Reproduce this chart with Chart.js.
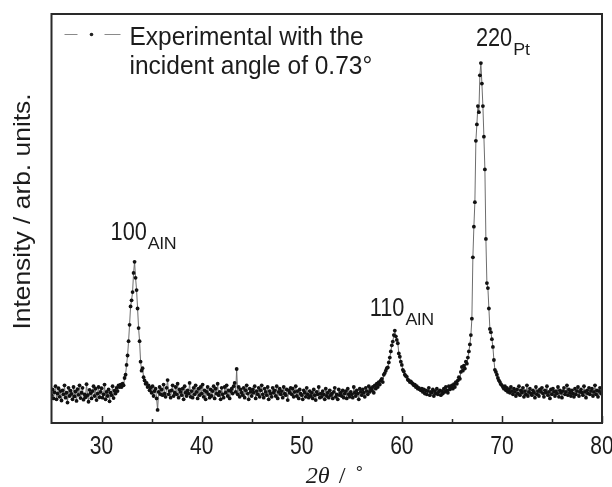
<!DOCTYPE html>
<html>
<head>
<meta charset="utf-8">
<title>XRD pattern</title>
<script src="https://cdn.jsdelivr.net/npm/chart.js@4.4.1/dist/chart.umd.min.js"></script>
<style>
    html, body { margin: 0; padding: 0; background: #fff; }
    canvas { display: block; }
</style>
</head>
<body>
<canvas id="xrdChart" width="612" height="487"></canvas>
<script>
// --- DATA ---
// scan angles, 2theta in degrees, one row per degree
const angles = [
    25.0,25.1,25.2,25.3,25.4,25.5,25.6,25.7,25.8,25.9,
    26.0,26.1,26.2,26.3,26.4,26.5,26.6,26.7,26.8,26.9,
    27.0,27.1,27.2,27.3,27.4,27.5,27.6,27.7,27.8,27.9,
    28.0,28.1,28.2,28.3,28.4,28.5,28.6,28.7,28.8,28.9,
    29.0,29.1,29.2,29.3,29.4,29.5,29.6,29.7,29.8,29.9,
    30.0,30.1,30.2,30.3,30.4,30.5,30.6,30.7,30.8,30.9,
    31.0,31.1,31.2,31.3,31.4,31.5,31.6,31.7,31.8,31.9,
    32.0,32.1,32.2,32.3,32.4,32.5,32.6,32.7,32.8,32.9,
    33.0,33.1,33.2,33.3,33.4,33.5,33.6,33.7,33.8,33.9,
    34.0,34.1,34.2,34.3,34.4,34.5,34.6,34.7,34.8,34.9,
    35.0,35.1,35.2,35.3,35.4,35.5,35.6,35.7,35.8,35.9,
    36.0,36.1,36.2,36.3,36.4,36.5,36.6,36.7,36.8,36.9,
    37.0,37.1,37.2,37.3,37.4,37.5,37.6,37.7,37.8,37.9,
    38.0,38.1,38.2,38.3,38.4,38.5,38.6,38.7,38.8,38.9,
    39.0,39.1,39.2,39.3,39.4,39.5,39.6,39.7,39.8,39.9,
    40.0,40.1,40.2,40.3,40.4,40.5,40.6,40.7,40.8,40.9,
    41.0,41.1,41.2,41.3,41.4,41.5,41.6,41.7,41.8,41.9,
    42.0,42.1,42.2,42.3,42.4,42.5,42.6,42.7,42.8,42.9,
    43.0,43.1,43.2,43.3,43.4,43.5,43.6,43.7,43.8,43.9,
    44.0,44.1,44.2,44.3,44.4,44.5,44.6,44.7,44.8,44.9,
    45.0,45.1,45.2,45.3,45.4,45.5,45.6,45.7,45.8,45.9,
    46.0,46.1,46.2,46.3,46.4,46.5,46.6,46.7,46.8,46.9,
    47.0,47.1,47.2,47.3,47.4,47.5,47.6,47.7,47.8,47.9,
    48.0,48.1,48.2,48.3,48.4,48.5,48.6,48.7,48.8,48.9,
    49.0,49.1,49.2,49.3,49.4,49.5,49.6,49.7,49.8,49.9,
    50.0,50.1,50.2,50.3,50.4,50.5,50.6,50.7,50.8,50.9,
    51.0,51.1,51.2,51.3,51.4,51.5,51.6,51.7,51.8,51.9,
    52.0,52.1,52.2,52.3,52.4,52.5,52.6,52.7,52.8,52.9,
    53.0,53.1,53.2,53.3,53.4,53.5,53.6,53.7,53.8,53.9,
    54.0,54.1,54.2,54.3,54.4,54.5,54.6,54.7,54.8,54.9,
    55.0,55.1,55.2,55.3,55.4,55.5,55.6,55.7,55.8,55.9,
    56.0,56.1,56.2,56.3,56.4,56.5,56.6,56.7,56.8,56.9,
    57.0,57.1,57.2,57.3,57.4,57.5,57.6,57.7,57.8,57.9,
    58.0,58.1,58.2,58.3,58.4,58.5,58.6,58.7,58.8,58.9,
    59.0,59.1,59.2,59.3,59.4,59.5,59.6,59.7,59.8,59.9,
    60.0,60.1,60.2,60.3,60.4,60.5,60.6,60.7,60.8,60.9,
    61.0,61.1,61.2,61.3,61.4,61.5,61.6,61.7,61.8,61.9,
    62.0,62.1,62.2,62.3,62.4,62.5,62.6,62.7,62.8,62.9,
    63.0,63.1,63.2,63.3,63.4,63.5,63.6,63.7,63.8,63.9,
    64.0,64.1,64.2,64.3,64.4,64.5,64.6,64.7,64.8,64.9,
    65.0,65.1,65.2,65.3,65.4,65.5,65.6,65.7,65.8,65.9,
    66.0,66.1,66.2,66.3,66.4,66.5,66.6,66.7,66.8,66.9,
    67.0,67.1,67.2,67.3,67.4,67.5,67.6,67.7,67.8,67.9,
    68.0,68.1,68.2,68.3,68.4,68.5,68.6,68.7,68.8,68.9,
    69.0,69.1,69.2,69.3,69.4,69.5,69.6,69.7,69.8,69.9,
    70.0,70.1,70.2,70.3,70.4,70.5,70.6,70.7,70.8,70.9,
    71.0,71.1,71.2,71.3,71.4,71.5,71.6,71.7,71.8,71.9,
    72.0,72.1,72.2,72.3,72.4,72.5,72.6,72.7,72.8,72.9,
    73.0,73.1,73.2,73.3,73.4,73.5,73.6,73.7,73.8,73.9,
    74.0,74.1,74.2,74.3,74.4,74.5,74.6,74.7,74.8,74.9,
    75.0,75.1,75.2,75.3,75.4,75.5,75.6,75.7,75.8,75.9,
    76.0,76.1,76.2,76.3,76.4,76.5,76.6,76.7,76.8,76.9,
    77.0,77.1,77.2,77.3,77.4,77.5,77.6,77.7,77.8,77.9,
    78.0,78.1,78.2,78.3,78.4,78.5,78.6,78.7,78.8,78.9,
    79.0,79.1,79.2,79.3,79.4,79.5,79.6,79.7,79.8,79.9,
    80.0
];

// intensity, arb. units (0..1000 over the plot height)
const intensities = [
    68, 82, 60, 75, 90, 58, 72, 85, 64, 78,
    55, 80, 70, 92, 62, 74, 50, 86, 66, 79,
    71, 58, 88, 65, 77, 54, 83, 69, 92, 61,
    74, 86, 57, 70, 63, 95, 68, 52, 81, 73,
    60, 78, 90, 66, 84, 56, 72, 88, 63, 76,
    85, 62, 70, 94, 58, 76, 66, 82, 53, 74,
    68, 90, 61, 79, 72, 86, 78, 92, 88, 94,
    88, 96, 92, 110, 118, 142, 165, 200, 240, 285,
    300, 320, 367, 394, 355, 325, 280, 232, 200, 150,
    128, 134, 112, 104, 96, 98, 88, 92, 80, 86,
    74, 90, 66, 78, 84, 60, 32, 76, 88, 70,
    82, 68, 94, 72, 64, 86, 105, 70, 78, 62,
    80, 92, 66, 74, 88, 70, 96, 62, 82, 76,
    68, 84, 58, 90, 74, 66, 80, 72, 98, 64,
    78, 62, 86, 70, 92, 76, 60, 84, 68, 88,
    72, 94, 64, 80, 58, 76, 88, 70, 62, 82,
    66, 78, 90, 60, 84, 72, 96, 68, 76, 58,
    86, 70, 62, 88, 74, 92, 66, 80, 60, 78,
    84, 72, 90, 98, 76, 132, 70, 88, 64, 82,
    74, 68, 86, 62, 80, 92, 72, 58, 84, 76,
    66, 82, 74, 90, 60, 78, 70, 86, 64, 80,
    92, 70, 62, 84, 76, 68, 88, 58, 78, 72,
    64, 86, 74, 80, 66, 90, 60, 76, 84, 70,
    78, 62, 88, 72, 68, 82, 56, 80, 74, 86,
    70, 84, 64, 76, 90, 66, 78, 60, 82, 72,
    68, 58, 80, 74, 64, 86, 70, 62, 78, 66,
    74, 60, 82, 68, 56, 76, 70, 88, 62, 72,
    64, 78, 70, 58, 84, 66, 74, 62, 80, 68,
    72, 60, 76, 86, 64, 70, 58, 82, 68, 74,
    66, 80, 62, 72, 78, 60, 84, 70, 64, 76,
    70, 62, 88, 74, 66, 80, 72, 58, 84, 76,
    68, 82, 74, 64, 86, 78, 70, 90, 76, 84,
    80, 88, 74, 92, 84, 96, 88, 100, 94, 104,
    108, 100, 118, 122, 128, 134, 136, 148, 160, 175,
    190, 199, 215, 226, 212, 203, 195, 170, 162, 150,
    142, 130, 126, 118, 115, 113, 106, 104, 100, 102,
    98, 96, 92, 94, 88, 90, 84, 86, 82, 80,
    84, 76, 82, 72, 80, 70, 78, 86, 68, 76,
    74, 82, 66, 78, 72, 84, 70, 76, 80, 68,
    78, 72, 84, 76, 88, 80, 74, 90, 82, 86,
    92, 84, 95, 88, 100, 96, 104, 112, 108, 125,
    137, 128, 140, 133, 150, 145, 160, 175, 192, 215,
    255, 405, 480, 540, 690, 730, 775, 760, 850, 880,
    830, 775, 700, 620, 450, 342, 330, 280, 230, 222,
    205, 186, 154, 130, 125, 118, 110, 104, 100, 95,
    92, 88, 84, 90, 80, 86, 76, 82, 74, 88,
    78, 70, 84, 76, 66, 82, 72, 90, 68, 80,
    74, 86, 64, 78, 70, 92, 66, 76, 84, 72,
    68, 80, 74, 62, 88, 70, 78, 66, 82, 76,
    86, 72, 64, 80, 74, 90, 68, 76, 60, 82,
    70, 84, 76, 66, 78, 72, 88, 64, 80, 74,
    62, 78, 86, 70, 76, 92, 68, 82, 74, 66,
    80, 72, 64, 84, 70, 78, 88, 66, 76, 82,
    74, 68, 90, 76, 62, 80, 72, 86, 70, 78,
    84, 66, 76, 92, 70, 80, 64, 78, 86, 72,
    76
];

const majorTicks = [30, 40, 50, 60, 70, 80];
const minorTicks = [35, 45, 55, 65, 75];

// peak labels: reflection index and phase (subscript)
const peakIndex = ['100', '110', '220'];
const peakPhase = ['AlN', 'AlN', 'Pt'];

const legendLines = ['Experimental with the', 'incident angle of 0.73\u00B0'];

// --- DRAWING HELPERS ---
const SANS = '"Liberation Sans", Arial, sans-serif';
const INK = '#1c1c1c';

// draws text, optionally squeezed horizontally (the digits in the figure are narrow)
function drawText(ctx, text, x, y, font, squeeze = 1, align = 'left') {
    ctx.save();
    ctx.font = font;
    ctx.fillStyle = INK;
    ctx.textAlign = align;
    ctx.textBaseline = 'alphabetic';
    ctx.translate(x, y);
    ctx.scale(squeeze, 1);
    ctx.fillText(text, 0, 0);
    ctx.restore();
}

// label anchors in data units (angle, intensity) for each peak label
const peakLabelAt = [[30.9, 448], [56.8, 262], [67.4, 922]];

const framePlugin = {
    id: 'frame',
    afterDraw(chart) {
        const { ctx, chartArea: a, scales: { x, y } } = chart;

        // box around the plot
        ctx.save();
        ctx.strokeStyle = '#2a2a2a';
        ctx.lineWidth = 2;
        ctx.strokeRect(a.left, a.top, a.right - a.left, a.bottom - a.top);

        // inward ticks on the bottom axis only
        ctx.lineWidth = 1.5;
        ctx.beginPath();
        majorTicks.forEach(v => {
            const px = Math.round(x.getPixelForValue(v)) + 0.5;
            ctx.moveTo(px, a.bottom);
            ctx.lineTo(px, a.bottom - 7);
        });
        minorTicks.forEach(v => {
            const px = Math.round(x.getPixelForValue(v)) + 0.5;
            ctx.moveTo(px, a.bottom);
            ctx.lineTo(px, a.bottom - 4);
        });
        ctx.stroke();
        ctx.restore();

        // tick labels
        majorTicks.forEach(v => {
            drawText(ctx, String(v), x.getPixelForValue(v), a.bottom + 31, '25px ' + SANS, 0.84, 'center');
        });

        // x axis title: 2θ / °
        const cx = (a.left + a.right) / 2;
        drawText(ctx, '2\u03B8', cx - 21, a.bottom + 60, 'italic 23px "Liberation Serif", serif', 1.05);
        drawText(ctx, '/', cx + 13, a.bottom + 60, 'italic 20px ' + SANS, 0.8);
        drawText(ctx, '\u00B0', cx + 29, a.bottom + 56, '18px ' + SANS);

        // y axis title
        ctx.save();
        ctx.translate(a.left - 22, (a.top + a.bottom) / 2 - 7);
        ctx.rotate(-Math.PI / 2);
        drawText(ctx, 'Intensity / arb. units.', 0, 0, '24px ' + SANS, 1.1, 'center');
        ctx.restore();

        // legend: dash - dot - dash sample and two lines of text
        const ly = a.top + 20.5;
        ctx.save();
        ctx.strokeStyle = '#8a8a8a';
        ctx.lineWidth = 1;
        ctx.beginPath();
        ctx.moveTo(a.left + 13, ly); ctx.lineTo(a.left + 26, ly);
        ctx.moveTo(a.left + 53, ly); ctx.lineTo(a.left + 69, ly);
        ctx.stroke();
        ctx.fillStyle = '#222';
        ctx.beginPath();
        ctx.arc(a.left + 40, ly, 1.8, 0, Math.PI * 2);
        ctx.fill();
        ctx.restore();
        drawText(ctx, legendLines[0], a.left + 78, a.top + 31, '25px ' + SANS, 0.98);
        drawText(ctx, legendLines[1], a.left + 78, a.top + 60, '25px ' + SANS, 0.98);

        // peak labels with subscripted phase
        peakIndex.forEach((label, i) => {
            const px = x.getPixelForValue(peakLabelAt[i][0]);
            const py = y.getPixelForValue(peakLabelAt[i][1]);
            ctx.save();
            ctx.font = '25px ' + SANS;
            const w = ctx.measureText(label).width * 0.87;
            ctx.restore();
            drawText(ctx, label, px, py, '25px ' + SANS, 0.87);
            drawText(ctx, peakPhase[i], px + w + 1, py + 9, '17px ' + SANS, 1.05);
        });
    }
};

// --- CHART ---
document.addEventListener('DOMContentLoaded', function () {
    const points = angles.map((a, i) => ({ x: a, y: intensities[i] }));

    const ctx = document.getElementById('xrdChart').getContext('2d');
    new Chart(ctx, {
        type: 'line',
        data: {
            datasets: [{
                label: 'Experimental with the incident angle of 0.73\u00B0',
                data: points,
                borderColor: '#6e6e6e',
                borderWidth: 1,
                pointRadius: 1.9,
                pointBorderWidth: 0,
                pointBackgroundColor: '#111',
                tension: 0,
            }],
        },
        options: {
            responsive: false,
            animation: false,
            devicePixelRatio: 1,
            layout: { padding: { top: 14, right: 10, left: 0, bottom: 0 } },
            plugins: { legend: { display: false }, tooltip: { enabled: false } },
            scales: {
                x: {
                    type: 'linear', min: 25, max: 80,
                    grid: { display: false }, border: { display: false },
                    ticks: { display: false },
                    afterFit: s => { s.height = 64; },
                },
                y: {
                    min: 0, max: 1000,
                    grid: { display: false }, border: { display: false },
                    ticks: { display: false },
                    afterFit: s => { s.width = 51.5; },
                },
            },
        },
        plugins: [framePlugin],
    });
});
</script>
</body>
</html>
